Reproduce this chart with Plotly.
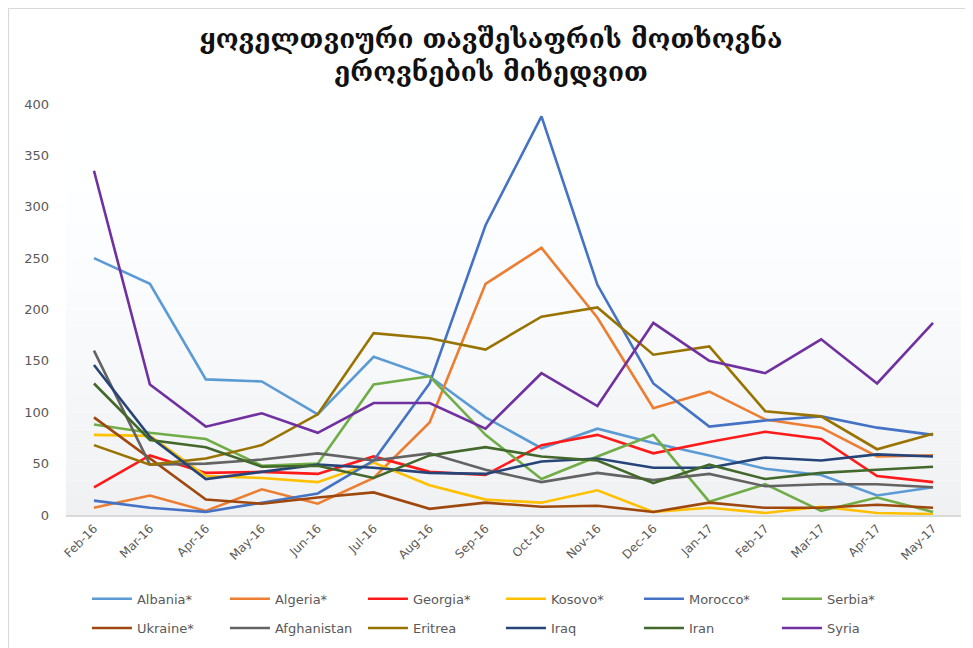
import plotly.graph_objects as go

months = ["Feb-16", "Mar-16", "Apr-16", "May-16", "Jun-16", "Jul-16", "Aug-16", "Sep-16",
          "Oct-16", "Nov-16", "Dec-16", "Jan-17", "Feb-17", "Mar-17", "Apr-17", "May-17"]

albania = [250, 225, 132, 130, 98, 154, 135, 95, 65, 84, 70, 58, 45, 39, 19, 27]
algeria = [7, 19, 4, 25, 11, 36, 90, 225, 260, 192, 104, 120, 93, 85, 57, 58]
georgia = [27, 58, 41, 42, 40, 57, 42, 39, 68, 78, 60, 71, 81, 74, 38, 32]
kosovo = [78, 77, 38, 36, 32, 51, 29, 15, 12, 24, 3, 7, 2, 8, 2, 1]
morocco = [14, 7, 3, 12, 21, 53, 128, 282, 388, 224, 128, 86, 92, 96, 85, 78]
serbia = [88, 80, 74, 48, 50, 127, 135, 78, 35, 57, 78, 13, 30, 4, 17, 3]
ukraine = [95, 55, 15, 11, 17, 22, 6, 12, 8, 9, 3, 12, 7, 7, 10, 7]
afghanistan = [160, 49, 50, 54, 60, 53, 60, 44, 32, 41, 34, 40, 28, 30, 30, 27]
eritrea = [68, 49, 55, 68, 98, 177, 172, 161, 193, 202, 156, 164, 101, 96, 64, 79]
iraq = [146, 76, 35, 42, 49, 46, 41, 40, 52, 55, 46, 46, 56, 53, 59, 57]
iran = [128, 73, 66, 47, 48, 36, 58, 66, 57, 53, 31, 49, 35, 41, 44, 47]
syria = [335, 127, 86, 99, 80, 109, 109, 84, 138, 106, 187, 150, 138, 171, 128, 187]

series = [
    ("Albania*", albania, "#5B9BD5", "legend"),
    ("Algeria*", algeria, "#ED7D31", "legend"),
    ("Georgia*", georgia, "#FF1A1A", "legend"),
    ("Kosovo*", kosovo, "#FFC000", "legend"),
    ("Morocco*", morocco, "#4472C4", "legend"),
    ("Serbia*", serbia, "#70AD47", "legend"),
    ("Ukraine*", ukraine, "#9E480E", "legend2"),
    ("Afghanistan", afghanistan, "#636363", "legend2"),
    ("Eritrea", eritrea, "#997300", "legend2"),
    ("Iraq", iraq, "#264478", "legend2"),
    ("Iran", iran, "#43682B", "legend2"),
    ("Syria", syria, "#7030A0", "legend2"),
]

title_text = "ყოველთვიური თავშესაფრის მოთხოვნა<br>ეროვნების მიხედვით"

fig = go.Figure()
for name, vals, color, leg in series:
    fig.add_trace(go.Scatter(x=months, y=vals, name=name, mode="lines",
                             line=dict(color=color, width=2.6), legend=leg))

# subtle vertical gradient in plot area
shapes = []
n = 24
for i in range(n):
    t = i / (n - 1)
    c = int(255 - 15 * (1 - t) ** 1.6)
    shapes.append(dict(type="rect", xref="x domain", yref="y domain",
                       x0=0, x1=1, y0=i / n, y1=(i + 1) / n,
                       fillcolor=f"rgb({c},{c+1},{min(255, c+3)})", line=dict(width=0),
                       layer="below"))
# outer frame (left and top edges of the chart box)
shapes.append(dict(type="rect", xref="paper", yref="paper", x0=-0.0642, x1=1.2,
                   y0=-0.5, y1=1.2324, line=dict(color="#d9d9d9", width=1.2),
                   fillcolor="rgba(0,0,0,0)", layer="below"))

legfont = dict(family="DejaVu Sans, sans-serif", size=13, color="#595959")
fig.update_layout(
    width=965, height=640,
    margin=dict(l=58, r=12, t=96, b=133, autoexpand=False),
    paper_bgcolor="white", plot_bgcolor="white",
    title=dict(text=title_text, x=0.4749, xref="paper", xanchor="center", y=0.938, yanchor="top",
               font=dict(family="DejaVu Serif, DejaVu Sans", size=26, color="#111111",
                         weight="bold")),
    xaxis=dict(type="category", range=[-0.5, 15.5], tickangle=-45, showgrid=False, showline=True,
               linecolor="#d9d9d9", linewidth=1.5, ticks="", zeroline=False, automargin=False,
               tickfont=dict(family="DejaVu Sans, sans-serif", size=12, color="#595959")),
    yaxis=dict(range=[0, 400], dtick=50, showgrid=False, zeroline=False, showline=False,
               ticks="", ticklabelstandoff=16, automargin=False,
               tickfont=dict(family="DejaVu Sans, sans-serif", size=13, color="#595959")),
    legend=dict(orientation="h", x=0.0234, xanchor="left", y=-0.204, yanchor="middle",
                entrywidth=83, entrywidthmode="pixels", font=legfont,
                bgcolor="rgba(0,0,0,0)", itemwidth=40),
    legend2=dict(orientation="h", x=0.0234, xanchor="left", y=-0.275, yanchor="middle",
                 entrywidth=83, entrywidthmode="pixels", font=legfont,
                 bgcolor="rgba(0,0,0,0)", itemwidth=40),
    shapes=shapes,
    showlegend=True,
)

fig.write_html("out.html")
